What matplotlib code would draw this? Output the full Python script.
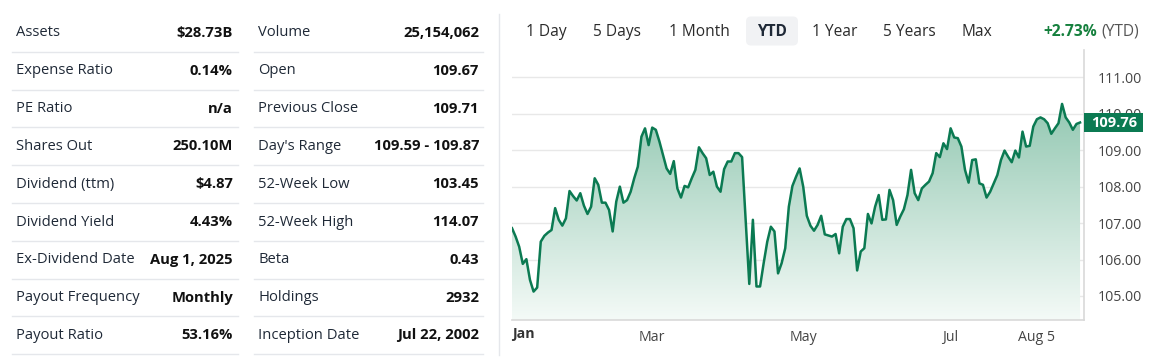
import numpy as np
import pandas as pd
import matplotlib
matplotlib.use("Agg")
from matplotlib import pyplot as plt
from matplotlib.lines import Line2D
from matplotlib.patches import FancyBboxPatch, Rectangle
from matplotlib.transforms import IdentityTransform
from matplotlib.colors import LinearSegmentedColormap

plt.rcParams['font.family'] = ['Open Sans', 'DejaVu Sans']

#-----------------------------------------------------------------------------------------
# data

left_labels = ["Assets", "Expense Ratio", "PE Ratio", "Shares Out", "Dividend (ttm)",
               "Dividend Yield", "Ex-Dividend Date", "Payout Frequency", "Payout Ratio"]
left_values = ["$28.73B", "0.14%", "n/a", "250.10M", "$4.87",
               "4.43%", "Aug 1, 2025", "Monthly", "53.16%"]

right_labels = ["Volume", "Open", "Previous Close", "Day's Range", "52-Week Low",
                "52-Week High", "Beta", "Holdings", "Inception Date"]
right_values = ["25,154,062", "109.67", "109.71", "109.59 - 109.87", "103.45",
                "114.07", "0.43", "2932", "Jul 22, 2002"]

periods = ["1 Day", "5 Days", "1 Month", "YTD", "1 Year", "5 Years", "Max"]
active_period = "YTD"
change_text = "+2.73%"

# daily closes, YTD 2025
prices = [
    106.86, 106.63, 106.35, 105.88, 106.01, 105.44, 105.12, 105.23, 106.49, 106.65,
    106.74, 106.81, 107.41, 107.09, 106.93, 107.13, 107.88, 107.74, 107.62, 107.82,
    107.48, 107.25, 107.45, 108.23, 108.05, 107.56, 107.56, 107.36, 106.77, 107.59,
    108.00, 107.56, 107.63, 107.86, 108.23, 108.55, 109.37, 109.60, 109.14, 109.62,
    109.56, 109.24, 108.87, 108.50, 108.35, 108.70, 107.95, 107.70, 108.02, 107.98,
    108.23, 108.46, 109.08, 108.92, 108.78, 108.32, 108.41, 108.00, 107.86, 108.48,
    108.69, 108.69, 108.92, 108.92, 108.81, 107.09, 105.33, 107.09, 105.26, 105.26,
    105.90, 106.49, 106.90, 106.77, 105.62, 105.90, 106.31, 107.45, 108.02, 108.27,
    108.50, 108.00, 107.20, 106.93, 106.79, 106.95, 107.20, 106.69, 106.66, 106.63,
    106.70, 106.17, 106.90, 107.11, 107.11, 106.86, 105.70, 106.22, 106.31, 107.25,
    106.99, 107.45, 107.77, 107.09, 107.10, 107.91, 107.63, 106.95, 107.18, 107.38,
    107.77, 108.46, 107.82, 107.63, 107.95, 108.05, 108.14, 108.37, 108.92, 108.81,
    109.19, 109.03, 109.60, 109.35, 109.33, 109.10, 108.46, 108.11, 108.73, 108.75,
    108.09, 108.05, 107.70, 107.86, 108.09, 108.32, 108.73, 108.99, 108.82, 108.67,
    108.99, 108.80, 109.51, 109.10, 109.12, 109.65, 109.85, 109.90, 109.85, 109.74,
    109.45, 109.60, 109.74, 110.27, 109.90, 109.76, 109.56, 109.72, 109.76,
]
last_price = 109.76

holidays = ["2025-01-09", "2025-01-20", "2025-02-17", "2025-04-18",
            "2025-05-26", "2025-06-19", "2025-07-04"]
tick_dates = ["2025-01-02", "2025-03-01", "2025-05-01", "2025-07-01", "2025-08-05"]
tick_labels = ["Jan", "Mar", "May", "Jul", "Aug 5"]
y_ticks = [105, 106, 107, 108, 109, 110, 111]

#-----------------------------------------------------------------------------------------

W, H = 1161, 363
fig = plt.figure(figsize=(W / 100, H / 100), dpi=100)
px = IdentityTransform()


def P(y):
    # top-based pixel row -> display y
    return H - y


label_col = "#1f2937"
value_col = "#111111"
line_gray = "#e5e7eb"
green = "#0b7a52"

row_y = [33 + 37.8 * i for i in range(9)]
sep_y = [51.7 + 37.8 * i for i in range(9)]

# ===== stats tables =====
for (labels, values, xl, xr, l0, l1) in [
        (left_labels, left_values, 16, 233, 12, 238),
        (right_labels, right_values, 258, 479, 254, 483)]:
    for lab, val, y, ys in zip(labels, values, row_y, sep_y):
        fig.text(xl, P(y), lab, transform=px, ha="left", va="center",
                 fontsize=10.6, color=label_col)
        fig.text(xr, P(y), val, transform=px, ha="right", va="center",
                 fontsize=10.6, color=value_col, fontweight="bold")
        fig.add_artist(Line2D([l0, l1], [P(ys), P(ys)], transform=px,
                              color=line_gray, lw=1))

fig.add_artist(Line2D([499, 499], [P(14), P(355)], transform=px, color=line_gray, lw=1))

# ===== period buttons =====
btn_x = [546, 617, 699, 772, 835, 909, 977]
for name, x in zip(periods, btn_x):
    if name == active_period:
        fig.add_artist(FancyBboxPatch((746, P(45.5)), 52, 29, transform=px,
                                      boxstyle="round,pad=0,rounding_size=5",
                                      fc="#f1f2f4", ec="none"))
        fig.text(x, P(31.5), name, transform=px, ha="center", va="center",
                 fontsize=11.2, color="#1f2937", fontweight="bold")
    else:
        fig.text(x, P(31.5), name, transform=px, ha="center", va="center",
                 fontsize=11.2, color="#2b2b2b")

fig.text(1097, P(31.5), change_text, transform=px, ha="right", va="center",
         fontsize=11.2, color="#15803d", fontweight="bold")
fig.text(1101, P(31.5), "(YTD)", transform=px, ha="left", va="center",
         fontsize=11.2, color="#555555")

# ===== price chart =====
cal = pd.offsets.CustomBusinessDay(holidays=holidays)
dates = pd.date_range("2025-01-02", periods=len(prices), freq=cal)
idx = np.arange(len(prices))
tick_idx = [int(np.searchsorted(dates, pd.Timestamp(d))) for d in tick_dates]

ax = fig.add_axes([512 / W, (H - 320) / H, (1084 - 512) / W, (320 - 50) / H])

for v in y_ticks:
    ax.axhline(v, color="#e8e8e8", lw=1, zorder=0)

poly = ax.fill_between(idx, prices, 104.34, color="none", lw=0)
cmap = LinearSegmentedColormap.from_list("g", ["#f4faf7", "#93c8b2"])
grad = np.linspace(0, 1, 256).reshape(-1, 1)
im = ax.imshow(grad, extent=[0, len(prices) - 1, 104.34, 110.3], origin="lower",
               aspect="auto", cmap=cmap, zorder=1)
im.set_clip_path(poly.get_paths()[0], transform=ax.transData)
ax.set_xlim(0, len(prices) - 1 + 1.1)
ax.set_ylim(104.34, 111.75)

ax.plot(idx, prices, color=green, lw=1.8, zorder=3, solid_joinstyle="round")

for s in ["top", "left"]:
    ax.spines[s].set_visible(False)
for s in ["right", "bottom"]:
    ax.spines[s].set_color("#d9d9d9")
    ax.spines[s].set_linewidth(1.2)

ax.yaxis.tick_right()
ax.set_yticks(y_ticks)
ax.set_yticklabels([f"{v:.2f}" for v in y_ticks])
ax.tick_params(axis="y", length=0, pad=10, labelsize=10.2, labelcolor="#444444")

ax.set_xticks(tick_idx[1:])
ax.set_xticklabels(tick_labels[1:])
ax.tick_params(axis="x", length=0, pad=7, labelsize=10.2, labelcolor="#444444")
ax.text(512, P(334), tick_labels[0], transform=px,
        ha="left", va="center", fontsize=10.2, fontweight="bold", color="#333333")

# last price tag
fig.add_artist(Rectangle((1084, P(132)), 59, 19, transform=px, fc=green, ec="none"))
fig.text(1114, P(123), f"{last_price:.2f}", transform=px, ha="center", va="center",
         fontsize=10.5, color="white", fontweight="bold")

fig.savefig("out.png", dpi=100)
